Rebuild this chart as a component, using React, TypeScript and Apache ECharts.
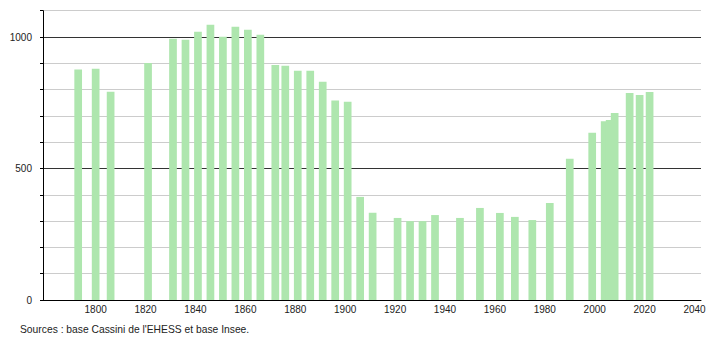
import React, { useEffect, useRef } from "react";
import * as echarts from "echarts";

const years = [
  1793, 1800, 1806, 1821, 1831, 1836, 1841, 1846, 1851, 1856, 1861, 1866,
  1872, 1876, 1881, 1886, 1891, 1896, 1901, 1906, 1911, 1921, 1926, 1931,
  1936, 1946, 1954, 1962, 1968, 1975, 1982, 1990, 1999, 2004, 2006, 2008,
  2014, 2018, 2022,
];
const population = [
  876, 879, 792, 901, 993, 990, 1020, 1047, 1001, 1039, 1028, 1009,
  894, 891, 872, 872, 830, 759, 754, 392, 332, 312, 300, 300,
  323, 312, 350, 331, 316, 304, 369, 537, 636, 680, 684, 711,
  787, 779, 791,
];
const xTickLabels = [1800, 1820, 1840, 1860, 1880, 1900, 1920, 1940, 1960, 1980, 2000, 2020, 2040];
const yTickLabels = [0, 500, 1000];
const sourceText = "Sources : base Cassini de l'EHESS et base Insee.";

export default function App() {
  const ref = useRef<HTMLDivElement>(null);
  useEffect(() => {
    if (!ref.current) return;
    const chart = echarts.init(ref.current, null, { renderer: "svg" });
    const font = "'Liberation Sans', Arial, sans-serif";
    chart.setOption({
      animation: false,
      grid: { left: 43, right: 9, top: 10.7, bottom: 40, containLabel: false },
      xAxis: {
        type: "value",
        min: 1778.9,
        max: 2042.6,
        splitLine: { show: false },
        axisTick: { show: false },
        axisLine: { show: true, onZero: false, lineStyle: { color: "#000", width: 1 } },
        axisLabel: {
          customValues: xTickLabels,
          color: "#222",
          fontSize: 10,
          fontFamily: font,
          margin: 4,
          formatter: (v: number) => String(Math.round(v)),
        },
      },
      yAxis: [
        {
          type: "value",
          min: 0,
          max: 1100,
          interval: 100,
          axisLine: { show: true, lineStyle: { color: "#000", width: 1 } },
          axisTick: { show: true, length: 3, lineStyle: { color: "#000" } },
          splitLine: { show: true, lineStyle: { color: "#cccccc", width: 1 } },
          axisLabel: {
            color: "#222",
            fontSize: 10,
            fontFamily: font,
            margin: 11,
            formatter: (v: number) => (yTickLabels.indexOf(v) >= 0 ? String(v) : ""),
          },
        },
        {
          type: "value",
          min: 0,
          max: 1100,
          interval: 500,
          axisLine: { show: false },
          axisTick: { show: false },
          axisLabel: { show: false },
          splitLine: { show: true, showMinLine: false, showMaxLine: false, lineStyle: { color: "#333333", width: 1 } },
        },
      ],
      series: [
        {
          type: "bar",
          data: years.map((y, i) => [y, population[i]]),
          barWidth: 7.7,
          itemStyle: { color: "#aee6ae" },
          silent: true,
        },
      ],
      graphic: [
        {
          type: "text",
          left: 20,
          top: 324,
          style: { text: sourceText, fontSize: 10.3, fontFamily: font, fill: "#222" },
        },
      ],
    });
    return () => chart.dispose();
  }, []);
  return <div ref={ref} style={{ width: 710, height: 340, position: "absolute", left: 0, top: 0 }} />;
}
